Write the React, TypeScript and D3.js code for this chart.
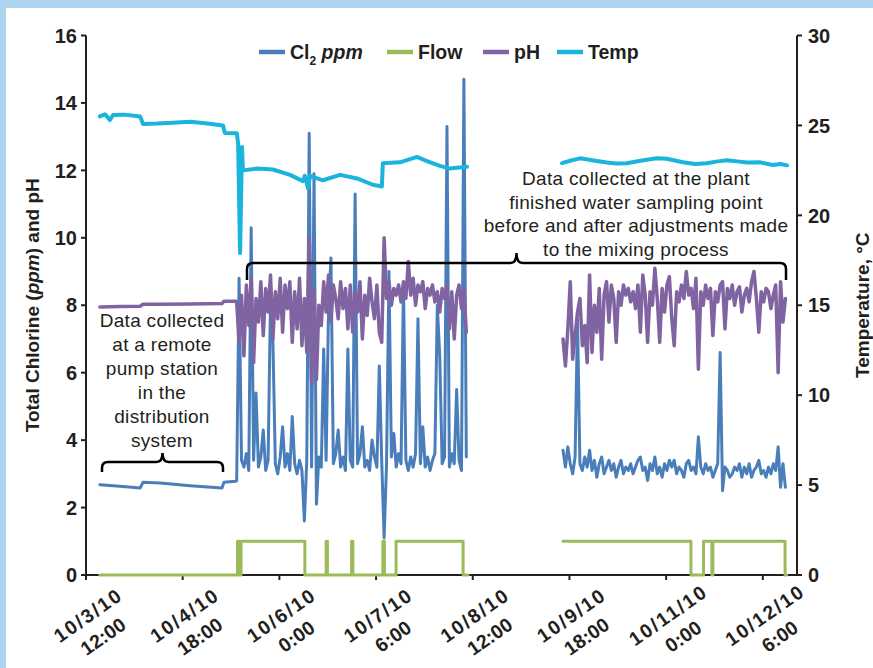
import React, { useEffect, useRef } from 'react';
import * as d3 from 'd3';

// time origin of the x axis: 10/3/10 12:00, values below are hours after it
const START = new Date(2010, 9, 3, 12, 0);
const AXIS_HOURS = 220.6;
const TICK_HOURS = [0, 30, 60, 90, 120, 150, 180, 210];
const LEFT_TICKS = [0, 2, 4, 6, 8, 10, 12, 14, 16];
const RIGHT_TICKS = [0, 5, 10, 15, 20, 25, 30];

// remote pump station
const pumpHours = [4.3, 10.5, 16.8, 17.7, 23.0, 32.3, 42.2, 42.8, 46.5];
const pumpCl2 = [2.68, 2.63, 2.58, 2.75, 2.73, 2.65, 2.58, 2.75, 2.78];
const pumpPH = [7.95, 7.96, 7.97, 8.03, 8.03, 8.04, 8.05, 8.12, 8.12];

// plant finished water, one reading every 45 minutes
const sampleStep = 0.75;
const plant1Start = 46.75;
const plant1Cl2 = [
  2.8, 8.8, 3.4, 3.2, 3.6, 3.1, 10.3, 3.4, 5.4, 3.2,
  3.5, 4.3, 3.1, 3.4, 8.2, 6.9, 3.3, 3.0, 3.5, 4.4,
  3.2, 3.6, 3.1, 4.7, 3.3, 3.0, 3.4, 3.1, 1.6, 3.4,
  13.1, 3.2, 11.9, 2.1, 3.5, 3.2, 6.7, 3.4, 7.9, 9.4,
  3.3, 3.6, 4.3, 3.2, 3.5, 3.1, 6.7, 3.4, 3.2, 11.3,
  3.3, 3.6, 4.4, 3.2, 3.4, 3.1, 4.0, 3.5, 3.2, 6.2,
  3.4, 1.1, 3.3, 9.0, 3.5, 4.2, 3.2, 3.6, 3.3, 8.6,
  3.4, 3.1, 3.5, 3.2, 3.6, 7.6, 3.3, 4.4, 3.2, 3.5,
  3.1, 3.4, 3.6, 8.0, 6.5, 3.3, 3.5, 13.3, 3.2, 3.6,
  3.3, 5.5, 3.4, 3.1, 14.7, 3.5,
];
const plant1PH = [
  8.1, 6.9, 8.3, 6.5, 8.6, 7.4, 8.8, 6.3, 8.2, 7.5,
  8.7, 7.1, 8.5, 7.8, 8.9, 7.0, 8.4, 7.6, 8.8, 7.2,
  8.6, 7.9, 8.7, 6.9, 8.4, 7.3, 8.8, 6.8, 8.2, 6.6,
  10.0, 5.7, 8.5, 5.8, 8.0, 7.4, 8.7, 7.8, 8.9, 7.5,
  8.6, 8.2, 7.6, 8.7, 7.9, 8.5, 7.3, 8.6, 7.2, 8.4,
  7.8, 8.7, 7.0, 8.3, 7.7, 8.8, 8.1, 7.6, 8.6, 7.2,
  6.9, 10.0, 8.2, 8.7, 8.0, 8.5, 8.3, 8.6, 8.1, 8.7,
  8.2, 9.3, 8.3, 8.8, 8.0, 8.6, 8.4, 8.7, 7.9, 8.5,
  8.3, 8.6, 8.1, 8.4, 7.8, 8.5, 8.2, 8.6, 7.3, 8.4,
  7.0, 8.3, 8.6, 7.9, 8.5, 7.2,
];
const plant2Start = 148.0;
const plant2Cl2 = [
  3.7, 3.2, 3.8, 3.3, 3.0, 3.5, 7.6, 3.3, 3.1, 3.5,
  3.2, 3.7, 3.1, 3.4, 2.9, 3.3, 3.5, 3.0, 3.2, 3.4,
  3.1, 3.3, 2.9, 3.2, 3.4, 3.0, 3.2, 3.1, 3.3, 3.0,
  3.2, 3.4, 3.5, 3.1, 3.2, 2.8, 3.3, 3.1, 3.5, 3.0,
  3.2, 2.9, 3.3, 3.1, 3.4, 3.2, 3.4, 3.0, 3.2, 3.1,
  2.9, 3.3, 3.4, 3.1, 3.2, 3.0, 4.1, 3.2, 3.0, 3.3,
  3.1, 3.2, 2.9, 3.1, 3.3, 6.6, 2.5, 3.2, 3.1, 2.9,
  3.0, 3.2, 3.1, 3.3, 2.9, 3.2, 3.0, 3.3, 2.9, 3.1,
  3.2, 3.4, 3.0, 3.1, 2.9, 3.2, 3.0, 3.3, 3.1, 3.8,
  2.6, 3.3, 2.6,
];
const plant2PH = [
  7.0, 6.2, 7.3, 8.7, 6.4, 7.1, 7.8, 8.2, 6.8, 7.4,
  6.3, 8.9, 6.6, 8.0, 7.2, 8.5, 6.4, 8.3, 8.7, 7.5,
  8.6, 8.2, 6.9, 8.4, 8.0, 8.6, 8.3, 8.5, 8.1, 8.4,
  7.9, 8.6, 7.2, 8.9, 8.3, 6.9, 8.4, 8.0, 9.1, 8.2,
  6.9, 8.5, 7.8, 8.6, 8.85, 7.6, 6.8, 8.4, 8.1, 8.6,
  8.2, 9.0, 8.3, 8.5, 7.9, 8.8, 6.1, 8.4, 8.0, 8.6,
  8.2, 8.5, 7.1, 8.4, 8.1, 8.6, 8.7, 7.3, 8.5, 8.2,
  8.6, 8.0, 8.4, 8.55, 7.8, 8.3, 8.5, 8.1, 8.7, 9.0,
  8.2, 7.2, 8.4, 8.1, 8.5, 8.4, 7.9, 8.3, 8.6, 6.0,
  8.7, 7.5, 8.2,
];

// temperature, deg C
const tempHours1 = [4.3, 5.9, 7.4, 8.4, 12.0, 16.8, 17.7, 22.0, 27.0, 32.3, 37.0, 42.5, 43.1, 46.8, 47.2, 47.8, 48.4, 48.7, 53.1, 58.0, 63.3, 67.3, 67.9, 68.9, 69.5, 73.5, 78.8, 84.1, 89.0, 91.8, 92.1, 97.4, 102.7, 106.0, 109.8, 112.9, 118.2];
const temp1 = [25.5, 25.62, 25.3, 25.58, 25.6, 25.5, 25.08, 25.1, 25.15, 25.2, 25.12, 25.0, 24.58, 24.56, 24.0, 17.9, 23.8, 22.5, 22.6, 22.55, 22.25, 21.9, 22.2, 21.5, 22.2, 21.95, 22.25, 22.05, 21.7, 21.6, 22.9, 22.95, 23.25, 23.0, 22.75, 22.6, 22.7];
const tempHours2 = [147.7, 150.5, 153.3, 157.5, 161.6, 164.5, 167.8, 172.5, 177.1, 180.2, 185.2, 189.0, 192.6, 196.0, 198.9, 202.0, 205.1, 209.0, 213.1, 215.5, 217.5];
const temp2 = [22.9, 23.05, 23.17, 23.05, 22.94, 22.88, 22.9, 23.05, 23.17, 23.15, 22.95, 22.85, 22.9, 23.0, 23.06, 23.0, 22.94, 22.95, 22.8, 22.85, 22.78];

// flow on / off (switch points)
const flowHours1 = [4.3, 47.0, 47.5, 48.1, 67.9, 74.5, 74.9, 82.4, 82.8, 92.1, 92.6, 96.2, 117.0, 118.5];
const flow1 = [0, 1, 0, 1, 0, 1, 0, 1, 0, 1, 0, 1, 0, 0];
const flowHours2 = [148.0, 187.7, 191.6, 194.2, 194.5, 216.9, 217.4];
const flow2 = [1, 0, 1, 0, 1, 0, 0];

const COLORS = { cl2: '#4a7ebb', flow: '#9bbb59', ph: '#8064a2', temp: '#1ab4dd' };
const INK = '#231f20';
const FONT = '"Liberation Sans", Arial, sans-serif';

const App = () => {
  const ref = useRef<SVGSVGElement>(null);

  useEffect(() => {
    const svg = d3.select(ref.current);
    svg.selectAll('*').remove();

    const left = 86, right = 797, top = 35.5, bottom = 575;
    const toDate = (h: number) => new Date(START.getTime() + h * 3600000);

    const x = d3.scaleTime().domain([START, toDate(AXIS_HOURS)]).range([left, right]);
    const yL = d3.scaleLinear().domain([0, 16]).range([bottom, top]);
    const yR = d3.scaleLinear().domain([0, 30]).range([bottom, top]);

    // page frame
    svg.append('rect').attr('width', 873).attr('height', 668).attr('fill', 'white');
    svg.append('rect').attr('width', 873).attr('height', 8).attr('fill', '#aed4f0');
    svg.append('rect').attr('width', 6).attr('height', 668).attr('fill', '#aed4f0');

    // axes
    const axisG = svg.append('g').attr('stroke', INK).attr('stroke-width', 2);
    axisG.append('line').attr('x1', left).attr('x2', left).attr('y1', top).attr('y2', bottom);
    axisG.append('line').attr('x1', right).attr('x2', right).attr('y1', top).attr('y2', bottom);
    axisG.append('line').attr('x1', left).attr('x2', right).attr('y1', bottom).attr('y2', bottom);

    LEFT_TICKS.forEach(t => {
      axisG.append('line').attr('x1', left - 5).attr('x2', left).attr('y1', yL(t)).attr('y2', yL(t));
    });
    RIGHT_TICKS.forEach(t => {
      axisG.append('line').attr('x1', right).attr('x2', right + 5).attr('y1', yR(t)).attr('y2', yR(t));
    });
    TICK_HOURS.forEach(h => {
      axisG.append('line').attr('x1', x(toDate(h))).attr('x2', x(toDate(h))).attr('y1', bottom).attr('y2', bottom + 5);
    });

    const labels = svg.append('g').attr('font-family', FONT).attr('font-weight', 'bold').attr('fill', INK);

    labels.selectAll('.yl').data(LEFT_TICKS).enter().append('text')
      .attr('x', left - 9).attr('y', d => yL(d)).attr('dy', '0.36em')
      .attr('text-anchor', 'end').attr('font-size', 20).text(d => d);

    labels.selectAll('.yr').data(RIGHT_TICKS).enter().append('text')
      .attr('x', right + 11).attr('y', d => yR(d)).attr('dy', '0.36em')
      .attr('text-anchor', 'start').attr('font-size', 20).text(d => d);

    const fmtDay = d3.timeFormat('%-m/%-d/%y');
    const fmtTime = d3.timeFormat('%-H:%M');
    TICK_HOURS.forEach(h => {
      const d = toDate(h);
      const g = labels.append('g')
        .attr('transform', `translate(${x(d) + 2},${bottom + 40}) rotate(-35)`)
        .attr('font-size', 19.5).attr('text-anchor', 'middle');
      g.append('text').attr('y', 7).attr('letter-spacing', 2).text(fmtDay(d));
      g.append('text').attr('y', 33).text(fmtTime(d));
    });

    // axis titles
    const lt = labels.append('text')
      .attr('transform', `translate(32,${(top + bottom) / 2}) rotate(-90)`)
      .attr('text-anchor', 'middle').attr('dy', '0.36em').attr('font-size', 19);
    lt.append('tspan').text('Total Chlorine (');
    lt.append('tspan').attr('font-style', 'italic').text('ppm');
    lt.append('tspan').text(') and pH');

    labels.append('text')
      .attr('transform', `translate(862,${(top + bottom) / 2}) rotate(-90)`)
      .attr('text-anchor', 'middle').attr('dy', '0.36em').attr('font-size', 19)
      .text('Temperature, °C');

    // series
    const pts = (hours: number[], vals: number[]) => hours.map((h, i) => [toDate(h), vals[i]] as [Date, number]);
    const sampled = (start: number, vals: number[]) => vals.map((v, i) => [toDate(start + i * sampleStep), v] as [Date, number]);

    const lineL = d3.line<[Date, number]>().x(d => x(d[0])).y(d => yL(d[1]));
    const lineR = d3.line<[Date, number]>().x(d => x(d[0])).y(d => yR(d[1]));
    const stepL = d3.line<[Date, number]>().x(d => x(d[0])).y(d => yL(d[1])).curve(d3.curveStepAfter);

    const drawLine = (data: [Date, number][], gen: any, color: string, w: number) => {
      svg.append('path').datum(data)
        .attr('d', gen)
        .attr('fill', 'none')
        .attr('stroke', color)
        .attr('stroke-width', w)
        .attr('stroke-linejoin', 'round')
        .attr('stroke-linecap', 'round');
    };

    drawLine(pts(pumpHours, pumpCl2).concat(sampled(plant1Start, plant1Cl2)), lineL, COLORS.cl2, 3);
    drawLine(sampled(plant2Start, plant2Cl2), lineL, COLORS.cl2, 3);

    drawLine(pts(flowHours1, flow1), stepL, COLORS.flow, 3);
    drawLine(pts(flowHours2, flow2), stepL, COLORS.flow, 3);

    drawLine(pts(pumpHours, pumpPH).concat(sampled(plant1Start, plant1PH)), lineL, COLORS.ph, 3.5);
    drawLine(sampled(plant2Start, plant2PH), lineL, COLORS.ph, 3.5);

    drawLine(pts(tempHours1, temp1), lineR, COLORS.temp, 4);
    drawLine(pts(tempHours2, temp2), lineR, COLORS.temp, 4);

    // legend
    const legend = svg.append('g').attr('font-family', FONT).attr('font-weight', 'bold')
      .attr('font-size', 19.5).attr('fill', INK);
    const items = [
      { key: 'cl2', x: 259 },
      { key: 'flow', x: 387, label: 'Flow' },
      { key: 'ph', x: 483, label: 'pH' },
      { key: 'temp', x: 557, label: 'Temp' },
    ];
    items.forEach(it => {
      legend.append('line').attr('x1', it.x).attr('x2', it.x + 26).attr('y1', 52).attr('y2', 52)
        .attr('stroke', (COLORS as any)[it.key]).attr('stroke-width', 4.5);
      const t = legend.append('text').attr('x', it.x + 31).attr('y', 59);
      if (it.key === 'cl2') {
        t.append('tspan').text('Cl');
        t.append('tspan').attr('font-size', 12).attr('dy', 6).text('2');
        t.append('tspan').attr('dy', -6).text(' ');
        t.append('tspan').attr('font-style', 'italic').text('ppm');
      } else {
        t.text(it.label as string);
      }
    });

    // annotations
    const note = svg.append('g').attr('font-family', FONT).attr('font-size', 19)
      .attr('letter-spacing', 0.3).attr('fill', INK).attr('text-anchor', 'middle');
    ['Data collected', 'at a remote', 'pump station', 'in the', 'distribution', 'system']
      .forEach((s, i) => note.append('text').attr('x', 162).attr('y', 327 + i * 24).text(s));
    ['Data collected at the plant', 'finished water sampling point', 'before and after adjustments made', 'to the mixing process']
      .forEach((s, i) => note.append('text').attr('x', 636).attr('y', 185 + i * 23.7).text(s));

    const brace = (x1: number, x2: number, y: number, drop: number, bump: number) => {
      const m = (x1 + x2) / 2, r = 6;
      return `M${x1},${y + drop} L${x1},${y + r} Q${x1},${y} ${x1 + r},${y} L${m - r},${y} Q${m},${y} ${m},${y - bump} Q${m},${y} ${m + r},${y} L${x2 - r},${y} Q${x2},${y} ${x2},${y + r} L${x2},${y + drop}`;
    };
    svg.append('path').attr('d', brace(102, 223, 462, 10, 9))
      .attr('fill', 'none').attr('stroke', 'black').attr('stroke-width', 2.5);
    svg.append('path').attr('d', brace(247, 786, 263, 17, 10))
      .attr('fill', 'none').attr('stroke', 'black').attr('stroke-width', 2.5);
  }, []);

  return (
    <div>
      <style>{'body{margin:0}'}</style>
      <svg ref={ref} width={873} height={668} style={{ display: 'block' }}></svg>
    </div>
  );
};

export default App;
